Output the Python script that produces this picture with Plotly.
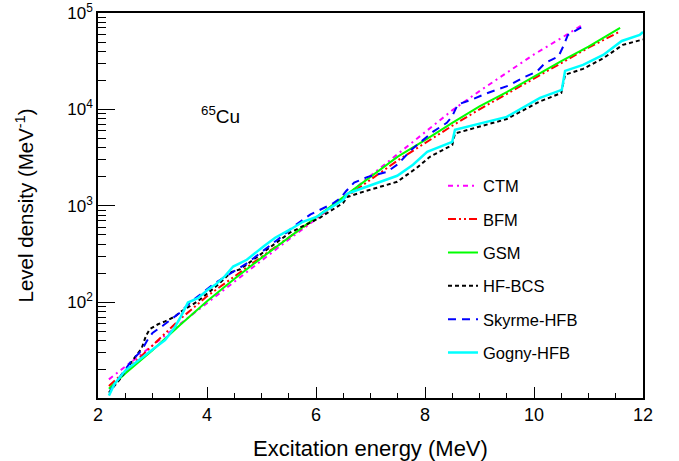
import plotly.graph_objects as go

# ---------------- data ----------------
ctm_x = [2.2, 2.5, 3.0, 3.5, 4.0, 4.5, 5.0, 5.5, 6.0, 6.5, 7.0, 7.5, 8.0, 8.5, 9.0, 9.5, 10.0, 10.5, 10.9]
ctm_y = [15.8, 21.4, 35.5, 58.9, 97.7, 162, 269, 447, 724, 1202, 2042, 3467, 5754, 9772, 15488, 23988, 37154, 54954, 75858]

bfm_x = [2.2, 2.5, 3.0, 3.5, 4.0, 4.5, 5.0, 5.5, 6.0, 6.5, 7.0, 7.5, 8.0, 8.5, 9.0, 9.5, 10.0, 10.5, 11.0, 11.55]
bfm_y = [13.5, 19.1, 35.5, 66.1, 115, 186, 295, 468, 741, 1175, 1862, 2951, 4467, 6761, 10000, 14454, 20893, 30200, 43652, 63096]

gsm_x = [2.2, 2.5, 3.0, 3.5, 4.0, 4.5, 5.0, 5.5, 6.0, 6.5, 7.0, 7.5, 8.0, 8.5, 9.0, 9.5, 10.0, 10.5, 11.0, 11.58]
gsm_y = [12.6, 18.2, 31.6, 57.5, 102, 174, 288, 468, 759, 1230, 1995, 3236, 4786, 7244, 10715, 15136, 21878, 31623, 44668, 69984]

hfbcs_x = [2.2, 2.4, 2.64, 2.8, 2.88, 2.95, 3.1, 3.23, 3.41, 3.52, 3.83, 4.2, 4.44, 4.61, 4.92, 5.52, 6.07,
           6.5, 6.57, 6.81, 7.49, 7.85, 8.09, 8.5, 8.55, 9.5, 10.1, 10.5, 10.57, 10.9, 11.27, 11.63, 12.0]
hfbcs_y = [11.5, 15.8, 25.1, 33.1, 44.7, 52.5, 58.9, 63.1, 70.8, 79.4, 102, 151, 204, 219, 295, 525, 750,
           1072, 1230, 1365, 1774, 2477, 3221, 4266, 5623, 7943, 12023, 14791, 22909, 26303, 33884, 46774, 53088]

skyrme_x = [2.22, 2.4, 2.6, 2.8, 2.9, 3.0, 3.2, 3.5, 3.7, 4.1, 4.5, 4.75, 5.3, 5.65, 5.9, 6.3, 6.45, 6.55, 6.7,
            6.95, 7.3, 7.5, 7.75, 8.15, 8.4, 8.5, 8.6, 8.85, 9.15, 9.55, 9.8, 10.05, 10.2, 10.45, 10.55, 10.62, 10.85, 10.9]
skyrme_y = [12.0, 16.6, 24.0, 31.6, 39.8, 47.9, 57.5, 77.6, 100, 151, 209, 257, 447, 646, 813, 1047, 1202, 1413, 1738,
            1995, 2239, 2692, 3802, 5888, 7244, 8511, 11220, 12589, 14791, 17783, 21380, 24547, 30200, 35481, 46774, 58884, 69984, 70795]

gogny_x = [2.2, 2.3, 2.5, 2.7, 3.05, 3.23, 3.41, 3.52, 3.65, 3.83, 4.02, 4.15, 4.33, 4.48, 4.73, 5.03, 5.25, 5.52,
           5.76, 6.02, 6.13, 6.5, 6.57, 6.62, 6.94, 7.49, 7.78, 8.04, 8.5, 8.55, 9.5, 9.93, 10.11, 10.51, 10.57,
           10.9, 11.27, 11.61, 11.94, 12.0]
gogny_y = [10.7, 14.1, 19.5, 24.0, 33.9, 40.3, 55.0, 70.8, 98.9, 110, 135, 151, 186, 234, 275, 376, 466, 564,
           682, 769, 851, 1153, 1318, 1365, 1574, 2046, 2661, 3631, 4603, 6138, 8356, 11668, 13152, 15922, 25089,
           28907, 36728, 51286, 59156, 63533]

x_ticks = [2, 4, 6, 8, 10, 12]
y_ticks = [100, 1000, 10000, 100000]
y_ticktext = ["10<sup>2</sup>", "10<sup>3</sup>", "10<sup>4</sup>", "10<sup>5</sup>"]
y_minor = [m * d for d in (10, 100, 1000, 10000) for m in range(2, 10)]

series = [
    ("CTM", ctm_x, ctm_y, "#ff00ff", "5px,4px,2px,4px", 2),
    ("BFM", bfm_x, bfm_y, "#ff0000", "8px,3px,2px,3px,2px,3px", 2),
    ("GSM", gsm_x, gsm_y, "#00ff00", "solid", 2),
    ("HF-BCS", hfbcs_x, hfbcs_y, "#000000", "4px,3px", 2),
    ("Skyrme-HFB", skyrme_x, skyrme_y, "#0000ff", "8px,6px", 2),
    ("Gogny-HFB", gogny_x, gogny_y, "#00ffff", "solid", 2.5),
]

FONT = "Liberation Sans, Arial, Helvetica, sans-serif"

fig = go.Figure()
for name, xs, ys, color, dash, w in series:
    fig.add_trace(go.Scatter(x=xs, y=ys, mode="lines", name=name, legendgroup=name,
                             line=dict(color=color, dash=dash, width=w)))

fig.update_layout(
    width=679, height=461,
    margin=dict(l=98, r=36, t=13, b=63, autoexpand=False),
    paper_bgcolor="white", plot_bgcolor="white",
    font=dict(family=FONT, size=17, color="black"),
    showlegend=True,
    legend=dict(x=0.633, y=0.596, xanchor="left", yanchor="top",
                bgcolor="rgba(0,0,0,0)", font=dict(size=16.5, family=FONT),
                tracegroupgap=8.9, itemwidth=30),
    xaxis=dict(range=[2, 12], tickvals=x_ticks, ticks="inside", ticklen=11, tickwidth=1,
               tickcolor="black", showline=True, linecolor="black", linewidth=1.5, mirror=True,
               showgrid=False, zeroline=False, tickfont=dict(size=18), automargin=False,
               minor=dict(dtick=0.5, tick0=2, ticks="inside", ticklen=5.5, tickcolor="black", showgrid=False),
               title=dict(text="Excitation energy (MeV)", font=dict(size=22), standoff=18)),
    yaxis=dict(type="log", range=[1.005, 5], tickvals=y_ticks, ticktext=y_ticktext,
               ticks="inside", ticklen=17, tickwidth=1, tickcolor="black",
               showline=True, linecolor="black", linewidth=1.5, mirror=True,
               showgrid=False, zeroline=False, tickfont=dict(size=17), automargin=False,
               minor=dict(tickvals=y_minor, ticks="inside", ticklen=8, tickcolor="black", showgrid=False),
               title=dict(text="Level density (MeV<sup>-1</sup>)", font=dict(size=20.5), standoff=28)),
    annotations=[dict(text="<sup>65</sup>Cu", x=0.224, y=0.735, xref="paper", yref="paper",
                      showarrow=False, font=dict(size=19, family=FONT), xanchor="center", yanchor="middle")],
)

fig.write_html("out.html")
